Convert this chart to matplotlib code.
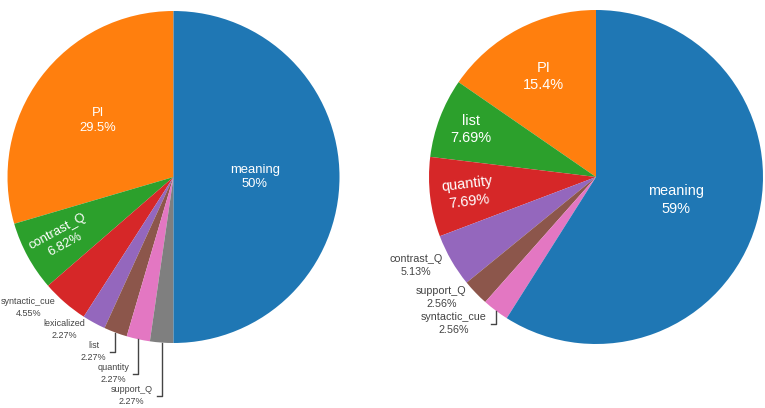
import matplotlib.pyplot as plt
import numpy as np

W, H = 765, 408

# two pies, slices in plotly order (sorted by count)
left_labels = ['meaning', 'PI', 'contrast_Q', 'syntactic_cue', 'lexicalized',
               'list', 'quantity', 'support_Q']
left_counts = [22, 13, 3, 2, 1, 1, 1, 1]

right_labels = ['meaning', 'PI', 'list', 'quantity', 'contrast_Q',
                'support_Q', 'syntactic_cue']
right_counts = [23, 6, 3, 3, 2, 1, 1]

palette = ['#1f77b4', '#ff7f0e', '#2ca02c', '#d62728', '#9467bd',
           '#8c564b', '#e377c2', '#7f7f7f']

# label placement for slices whose text sits inside: (radius fraction, orientation)
left_inside = {'meaning': (0.49, 'h'), 'PI': (0.57, 'h'), 'contrast_Q': (0.77, 'radial')}
right_inside = {'meaning': (0.50, 'h'), 'PI': (0.68, 'h'), 'list': (0.80, 'h'),
                'quantity': (0.77, 'radial')}

plt.rcParams['font.family'] = ['Liberation Sans', 'DejaVu Sans']


def px2pt(px):
    return px * 72.0 / 100.0


def draw_pie(ax, labels, counts, cx, cy, r, inside, in_px, out_px):
    # cy is in pixels from the top of the figure
    n = len(labels)
    order = list(range(1, n)) + [0]
    wedges, _ = ax.pie([counts[i] for i in order],
                       colors=[palette[i] for i in order],
                       startangle=90, counterclock=True,
                       center=(cx, H - cy), radius=r,
                       wedgeprops=dict(linewidth=0))
    total = float(sum(counts))
    spacing = out_px * 2.45
    prev_y = None
    for w, i in zip(wedges, order):
        name = labels[i]
        pct = 100.0 * counts[i] / total
        txt = f"{name}\n{pct:.3g}%"
        mid = np.deg2rad((w.theta1 + w.theta2) / 2.0)
        if name in inside:
            frac, orient = inside[name]
            tx = cx + frac * r * np.cos(mid)
            ty = (H - cy) + frac * r * np.sin(mid)
            rot = 0
            if orient == 'radial':
                rot = np.rad2deg(mid) - 180
            ax.text(tx, ty, txt, color='white', fontsize=px2pt(in_px),
                    ha='center', va='center', multialignment='center',
                    rotation=rot, rotation_mode='anchor', linespacing=1.32)
        else:
            ex = cx + r * np.cos(mid)
            ey = cy - r * np.sin(mid)
            y = ey + 5
            if prev_y is not None:
                y = max(y, prev_y + spacing)
            if y - ey > 12:
                ax.plot([ex, ex, ex - 5], [H - ey, H - y, H - y],
                        color='#444444', lw=1)
            ax.text(ex - 9, H - y, txt, color='#444444', fontsize=px2pt(out_px),
                    ha='right', va='center', multialignment='center',
                    linespacing=1.38)
            prev_y = y


fig = plt.figure(figsize=(W / 100, H / 100), dpi=100)
ax = fig.add_axes([0, 0, 1, 1])

draw_pie(ax, left_labels, left_counts, 173.5, 177, 166, left_inside, 13, 9)
draw_pie(ax, right_labels, right_counts, 596, 177, 167, right_inside, 14.5, 10.7)

ax.set_xlim(0, W)
ax.set_ylim(0, H)
ax.set_aspect('auto')
ax.axis('off')

fig.savefig('out.png', dpi=100)
